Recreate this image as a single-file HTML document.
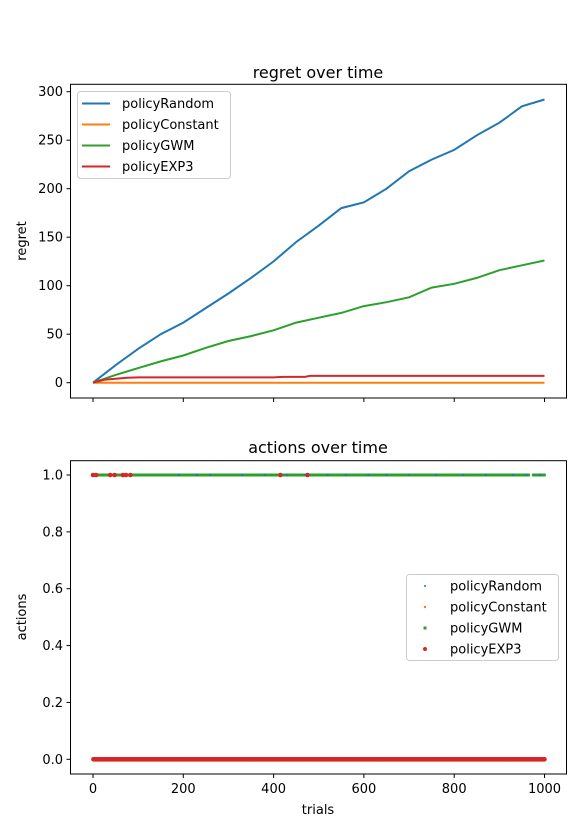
<!DOCTYPE html>
<html><head><meta charset="utf-8"><style>
html,body{margin:0;padding:0;background:#fff;}
svg{display:block;font-family:"DejaVu Sans","Liberation Sans",sans-serif;}
</style></head><body>
<svg id="fig" width="580" height="824" viewBox="0 0 580 824"></svg>
<script>
const trials=[0,50,100,150,200,250,300,350,400,450,500,550,600,650,700,750,800,850,900,950,1000];
const regretRandom=[0,18,35,50,62,77,92,108,125,145,162,180,186,200,218,230,240,255,268,285,292];
const regretConstant=[0,0,0,0,0,0,0,0,0,0,0,0,0,0,0,0,0,0,0,0,0];
const regretGWM=[0,8,15,22,28,36,43,48,54,62,67,72,79,83,88,98,102,108,116,121,126];
const exp3Trials=[0,25,50,75,100,200,300,400,420,470,480,600,800,1000];
const regretEXP3=[0,3,4,5,5.5,5.5,5.5,5.5,6,6,7,7,7,7];
const yTicksTop=[0,50,100,150,200,250,300];
const xTicks=[0,200,400,600,800,1000];
const yTicksBot=[0,0.2,0.4,0.6,0.8,1.0];
const exp3Ones=[0,7,38,48,66,73,83,415,475];
const gwmOneRuns=[[5,965],[975,1000]];
const randomOnes=[190,230,260,330,380,430,470,520,560,610,650,700,760,820,870,930,960,990];
const nTrials=1000;

const NS="http://www.w3.org/2000/svg";
const svg=document.getElementById('fig');
function el(tag,attrs,parent){const e=document.createElementNS(NS,tag);for(const k in attrs)e.setAttribute(k,attrs[k]);(parent||svg).appendChild(e);return e;}
const xs=v=>93+v*(544.5-93)/1000;
const yT=v=>382.7-v*(382.7-91.7)/300;
const yB=v=>759.3-v*(759.3-475);
const C={r:'#1f77b4',c:'#ff7f0e',g:'#2ca02c',e:'#d62728'};

function axesFrame(top,bot,name){
  const r=el('rect',{x:70.5,y:top,width:496,height:bot-top,fill:'none',stroke:'#000','stroke-width':1});
  
}
axesFrame(84.3,398,'regret-axes');
const t1=el('text',{x:318,y:78,'font-size':16,'text-anchor':'middle'});t1.textContent='regret over time';

yTicksTop.forEach(v=>{const y=yT(v);el('line',{x1:66.5,x2:70.5,y1:y,y2:y,stroke:'#000'});
  const t=el('text',{x:63,y:y+4.5,'font-size':13,'text-anchor':'end'});t.textContent=v;
  });
xTicks.forEach(v=>{const x=xs(v);el('line',{x1:x,x2:x,y1:398,y2:402,stroke:'#000'});});
const yl1=el('text',{x:0,y:0,'font-size':13,'text-anchor':'middle',transform:'translate(26,241) rotate(-90)'});yl1.textContent='regret';

function line(xa,ya,col,name){
  const p=el('path',{d:xa.map((t,i)=>(i?'L':'M')+xs(t).toFixed(1)+','+yT(ya[i]).toFixed(1)).join(''),fill:'none',stroke:col,'stroke-width':2});
  
}
line(trials,regretRandom,C.r,'line-random');
line(trials,regretConstant,C.c,'line-constant');
line(trials,regretGWM,C.g,'line-gwm');
line(exp3Trials,regretEXP3,C.e,'line-exp3');
const lg=el('g',{});
el('rect',{x:77.5,y:91.5,width:153,height:87,rx:3,fill:'#fff',stroke:'#ccc'},lg);
[['policyRandom',C.r],['policyConstant',C.c],['policyGWM',C.g],['policyEXP3',C.e]].forEach((d,i)=>{
  const y=103.5+i*21;el('line',{x1:82,x2:110,y1:y,y2:y,stroke:d[1],'stroke-width':2},lg);
  const t=el('text',{x:122,y:y+4.5,'font-size':13},lg);t.textContent=d[0];
  });

axesFrame(460.7,774,'actions-axes');
const t2=el('text',{x:318,y:453,'font-size':16,'text-anchor':'middle'});t2.textContent='actions over time';

yTicksBot.forEach(v=>{const y=yB(v);el('line',{x1:66.5,x2:70.5,y1:y,y2:y,stroke:'#000'});
  const t=el('text',{x:63,y:y+4.5,'font-size':13,'text-anchor':'end'});t.textContent=v.toFixed(1);
  });
xTicks.forEach(v=>{const x=xs(v);el('line',{x1:x,x2:x,y1:774,y2:778,stroke:'#000'});
  const t=el('text',{x:x,y:793,'font-size':13,'text-anchor':'middle'});t.textContent=v;
  });
const xl=el('text',{x:318,y:814,'font-size':13,'text-anchor':'middle'});xl.textContent='trials';

const yl2=el('text',{x:0,y:0,'font-size':13,'text-anchor':'middle',transform:'translate(26,617) rotate(-90)'});yl2.textContent='actions';


const pts=el('g',{});
for(let t=0;t<=nTrials;t++){el('circle',{cx:xs(t),cy:yB(0),r:1,fill:C.c},pts);}
gwmOneRuns.forEach(r=>{for(let t=r[0];t<=r[1];t++)el('rect',{x:xs(t)-1.3,y:yB(1)-1.3,width:2.6,height:2.6,fill:C.g},pts);});
randomOnes.forEach(t=>el('circle',{cx:xs(t),cy:yB(1),r:1.2,fill:C.r},pts));
for(let t=0;t<=nTrials;t++){if(!exp3Ones.includes(t))el('circle',{cx:xs(t),cy:yB(0),r:2.3,fill:C.e},pts);}
exp3Ones.forEach(t=>el('circle',{cx:xs(t),cy:yB(1),r:2.3,fill:C.e},pts));

const lg2=el('g',{});
el('rect',{x:406.5,y:574.5,width:152,height:86,rx:3,fill:'#fff',stroke:'#ccc'},lg2);
[['policyRandom',C.r,1],['policyConstant',C.c,1.2],['policyGWM',C.g,1.6],['policyEXP3',C.e,2]].forEach((d,i)=>{
  const y=586+i*21;
  if(i==2)el('rect',{x:425-1.5,y:y-1.5,width:3,height:3,fill:d[1]},lg2);
  else el('circle',{cx:425,cy:y,r:d[2],fill:d[1]},lg2);
  const t=el('text',{x:450,y:y+4.5,'font-size':13},lg2);t.textContent=d[0];
  });
</script>
</body></html>
